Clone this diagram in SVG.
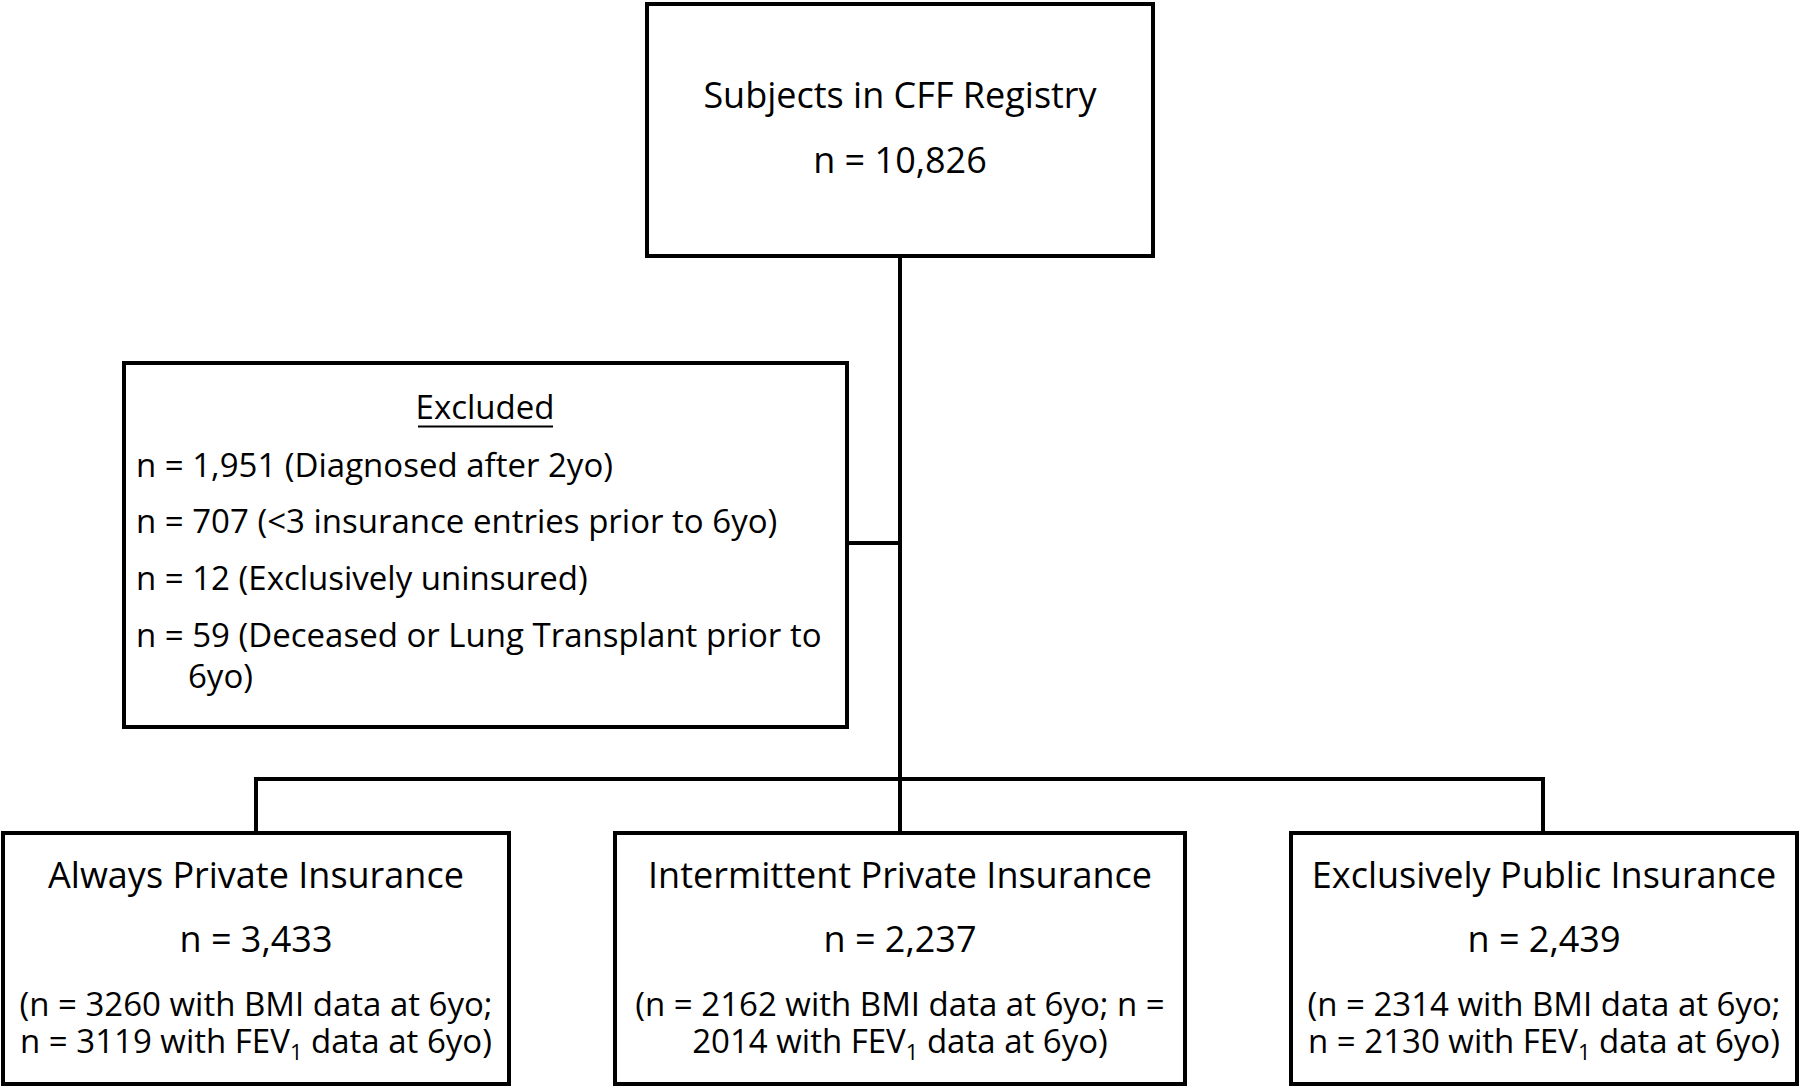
<svg xmlns="http://www.w3.org/2000/svg" width="1800" height="1088" viewBox="0 0 1800 1088">
<style>
.box{fill:#fff;stroke:#000;stroke-width:4}
.ln{fill:none;stroke:#000;stroke-width:4}
text{font-family:"Open Sans","Liberation Sans",sans-serif;fill:#000}
.big{font-size:36px;text-anchor:middle}
.sm{font-size:33px;text-anchor:middle}
.ex{font-size:33px}
.sub{font-size:22px}
</style>
<rect width="1800" height="1088" fill="#fff"/>
<g id="connectors">
<line class="ln" x1="900" y1="256" x2="900" y2="833"/>
<line class="ln" x1="847" y1="543" x2="900" y2="543"/>
<polyline class="ln" points="256,833 256,779 1543,779 1543,833"/>
</g>
<g id="registry">
<rect class="box" x="647" y="4" width="506" height="252"/>
<text class="big" x="900" y="108">Subjects in CFF Registry</text>
<text class="big" x="900" y="173">n = 10,826</text>
</g>
<g id="excluded">
<rect class="box" x="124" y="363" width="723" height="364"/>
<text class="ex" x="485" y="419" text-anchor="middle">Excluded</text>
<line x1="418" y1="426.5" x2="553" y2="426.5" stroke="#000" stroke-width="2"/>
<text class="ex" x="136" y="477">n = 1,951 (Diagnosed after 2yo)</text>
<text class="ex" x="136" y="533">n = 707 (&lt;3 insurance entries prior to 6yo)</text>
<text class="ex" x="136" y="590">n = 12 (Exclusively uninsured)</text>
<text class="ex" x="136" y="647">n = 59 (Deceased or Lung Transplant prior to</text>
<text class="ex" x="188" y="688">6yo)</text>
</g>
<g id="always-private">
<rect class="box" x="3" y="833" width="506" height="251"/>
<text class="big" x="256" y="888">Always Private Insurance</text>
<text class="big" x="256" y="952">n = 3,433</text>
<text class="sm" x="256" y="1016">(n = 3260 with BMI data at 6yo;</text>
<text class="sm" x="256" y="1053">n = 3119 with FEV<tspan class="sub" dy="7">1</tspan><tspan dy="-7"> data at 6yo)</tspan></text>
</g>
<g id="intermittent-private">
<rect class="box" x="615" y="833" width="570" height="251"/>
<text class="big" x="900" y="888">Intermittent Private Insurance</text>
<text class="big" x="900" y="952">n = 2,237</text>
<text class="sm" x="900" y="1016">(n = 2162 with BMI data at 6yo; n =</text>
<text class="sm" x="900" y="1053">2014 with FEV<tspan class="sub" dy="7">1</tspan><tspan dy="-7"> data at 6yo)</tspan></text>
</g>
<g id="public">
<rect class="box" x="1291" y="833" width="506" height="251"/>
<text class="big" x="1544" y="888">Exclusively Public Insurance</text>
<text class="big" x="1544" y="952">n = 2,439</text>
<text class="sm" x="1544" y="1016">(n = 2314 with BMI data at 6yo;</text>
<text class="sm" x="1544" y="1053">n = 2130 with FEV<tspan class="sub" dy="7">1</tspan><tspan dy="-7"> data at 6yo)</tspan></text>
</g>
</svg>
